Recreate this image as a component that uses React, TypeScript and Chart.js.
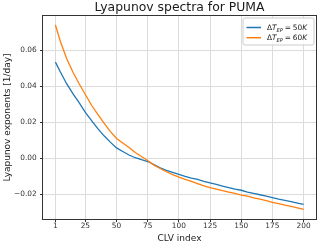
import { useEffect, useRef } from 'react';
import { Chart, registerables } from 'chart.js';

Chart.register(...registerables);

const clvIndex = [1, 5, 10, 15, 20, 25, 30, 35, 40, 45, 50, 55, 60, 65, 70, 75, 80, 85, 90, 95, 100,
  105, 110, 115, 120, 125, 130, 135, 140, 145, 150, 155, 160, 165, 170, 175, 180, 185, 190, 195, 200];

const lyapDT50 = [0.0535, 0.048, 0.0415, 0.036, 0.031, 0.0255, 0.021, 0.0165, 0.0125, 0.009, 0.0058,
  0.0038, 0.0018, 0.0003, -0.0008, -0.0018, -0.0035, -0.0053, -0.0067, -0.0079, -0.0089,
  -0.0101, -0.0111, -0.0118, -0.0128, -0.0137, -0.0145, -0.0155, -0.0163, -0.0172, -0.0178,
  -0.0188, -0.0196, -0.0203, -0.0211, -0.0219, -0.0227, -0.0234, -0.0241, -0.0249, -0.0257];

const lyapDT60 = [0.0742, 0.065, 0.0555, 0.048, 0.0415, 0.0355, 0.0295, 0.0245, 0.0195, 0.015, 0.011,
  0.0085, 0.006, 0.0032, 0.001, -0.0012, -0.0038, -0.0057, -0.0075, -0.0091, -0.0105,
  -0.0117, -0.0128, -0.0141, -0.0153, -0.0164, -0.0172, -0.018, -0.0188, -0.0196, -0.0205,
  -0.0211, -0.022, -0.0228, -0.0236, -0.0245, -0.0253, -0.0261, -0.0268, -0.0276, -0.0284];

const seriesValues = ['50', '60'];
const seriesColors = ['#1f77b4', '#ff7f0e'];
const xTicks = [1, 25, 50, 75, 100, 125, 150, 175, 200];
const yTicks = [-0.02, 0.0, 0.02, 0.04, 0.06];

const titleText = 'Lyapunov spectra for PUMA';
const xTitle = 'CLV index';
const yTitle = 'Lyapunov exponents [1/day]';

const FONT = '"DejaVu Sans", sans-serif';
const TICK_SIZE = 7.4;

const fmtY = (v: number) => {
  const s = Math.abs(v).toFixed(2);
  return v < -1e-9 ? '\u2212' + s : s;
};

const framePlugin = {
  id: 'frame',
  afterDatasetsDraw(chart: any) {
    const { ctx, chartArea: a } = chart;
    ctx.save();
    ctx.strokeStyle = '#333333';
    ctx.lineWidth = 1;
    ctx.strokeRect(Math.round(a.left) - 0.5, Math.round(a.top) - 0.5, Math.round(a.right - a.left) + 1, Math.round(a.bottom - a.top) + 1);
    ctx.restore();
  },
};

const legendPlugin = {
  id: 'mathLegend',
  afterDraw(chart: any) {
    const { ctx } = chart;
    const bx = 243, by = 18, bw = 71, bh = 27, r = 2;
    ctx.save();
    ctx.beginPath();
    ctx.moveTo(bx + r, by);
    ctx.lineTo(bx + bw - r, by);
    ctx.quadraticCurveTo(bx + bw, by, bx + bw, by + r);
    ctx.lineTo(bx + bw, by + bh - r);
    ctx.quadraticCurveTo(bx + bw, by + bh, bx + bw - r, by + bh);
    ctx.lineTo(bx + r, by + bh);
    ctx.quadraticCurveTo(bx, by + bh, bx, by + bh - r);
    ctx.lineTo(bx, by + r);
    ctx.quadraticCurveTo(bx, by, bx + r, by);
    ctx.closePath();
    ctx.fillStyle = 'rgba(255,255,255,0.85)';
    ctx.fill();
    ctx.strokeStyle = '#cccccc';
    ctx.lineWidth = 1;
    ctx.stroke();

    const rows = [27.5, 37.7];
    seriesValues.forEach((val, i) => {
      const y = rows[i];
      ctx.strokeStyle = seriesColors[i];
      ctx.lineWidth = 1.5;
      ctx.beginPath();
      ctx.moveTo(246.5, y);
      ctx.lineTo(261, y);
      ctx.stroke();

      ctx.fillStyle = '#222222';
      ctx.textBaseline = 'alphabetic';
      ctx.textAlign = 'left';
      const base = y + 2.6;
      let x = 267;
      const put = (t: string, font: string, dy = 0) => {
        ctx.font = font;
        ctx.fillText(t, x, base + dy);
        x += ctx.measureText(t).width;
      };
      const up = `${TICK_SIZE}px ${FONT}`;
      const it = `italic ${TICK_SIZE}px ${FONT}`;
      const sub = `italic ${TICK_SIZE * 0.7}px ${FONT}`;
      put('\u0394', up);
      put('T', it);
      put('EP', sub, 1.5);
      x += 1.8;
      put('=', up);
      x += 1.8;
      put(val, up);
      put('K', it);
    });
    ctx.restore();
  },
};

export default function App() {
  const ref = useRef<HTMLCanvasElement | null>(null);

  useEffect(() => {
    document.body.style.margin = '0';
    const canvas = ref.current;
    if (!canvas) return;
    const mk = (ys: number[]) => clvIndex.map((x, i) => ({ x, y: ys[i] }));
    const chart = new Chart(canvas, {
      type: 'line',
      data: {
        datasets: [
          {
            label: '50K',
            data: mk(lyapDT50),
            borderColor: seriesColors[0],
            backgroundColor: seriesColors[0],
            borderWidth: 1.3,
            pointRadius: 0,
            tension: 0,
            order: 1,
          },
          {
            label: '60K',
            data: mk(lyapDT60),
            borderColor: seriesColors[1],
            backgroundColor: seriesColors[1],
            borderWidth: 1.3,
            pointRadius: 0,
            tension: 0,
            order: 0,
          },
        ],
      },
      options: {
        responsive: false,
        animation: false,
        devicePixelRatio: 1,
        layout: { padding: { left: 0, right: 4, top: 0, bottom: 0 } },
        plugins: {
          legend: { display: false },
          tooltip: { enabled: false },
          title: {
            display: true,
            fullSize: false,
            text: titleText,
            color: '#1a1a1a',
            font: { family: FONT, size: 12.4, weight: 'normal', lineHeight: 1.2 },
            padding: { top: 0, bottom: 1.1 },
          },
        },
        scales: {
          x: {
            type: 'linear',
            min: -8.95,
            max: 209.95,
            afterBuildTicks: (s: any) => {
              s.ticks = xTicks.map((v) => ({ value: v }));
            },
            afterFit: (s: any) => {
              s.height = 25;
            },
            ticks: {
              autoSkip: false,
              maxRotation: 0,
              padding: 0,
              color: '#333333',
              font: { family: FONT, size: TICK_SIZE },
              callback: (v: any) => String(v),
            },
            grid: {
              color: '#dcdcdc',
              lineWidth: 1,
              drawTicks: true,
              tickLength: 3,
              tickColor: '#333333',
            },
            border: { display: false },
            title: {
              display: true,
              text: xTitle,
              color: '#222222',
              font: { family: FONT, size: 9, lineHeight: 1.2 },
              padding: { top: 0.6, bottom: 0 },
            },
          },
          y: {
            type: 'linear',
            min: -0.0338,
            max: 0.0792,
            afterBuildTicks: (s: any) => {
              s.ticks = yTicks.map((v) => ({ value: v }));
            },
            afterFit: (s: any) => {
              s.width = 43;
            },
            ticks: {
              padding: 3.3,
              color: '#333333',
              font: { family: FONT, size: TICK_SIZE },
              callback: (v: any) => fmtY(Number(v)),
            },
            grid: {
              color: '#dcdcdc',
              lineWidth: 1,
              drawTicks: true,
              tickLength: 3,
              tickColor: '#333333',
            },
            border: { display: false },
            title: {
              display: true,
              text: yTitle,
              color: '#222222',
              font: { family: FONT, size: 9, lineHeight: 1.2 },
              padding: { top: 2.6, bottom: 0 },
            },
          },
        },
      },
      plugins: [framePlugin, legendPlugin],
    } as any);
    return () => chart.destroy();
  }, []);

  return (
    <div style={{ width: 320, height: 244 }}>
      <canvas ref={ref} width={320} height={244} style={{ display: 'block' }} />
    </div>
  );
}
